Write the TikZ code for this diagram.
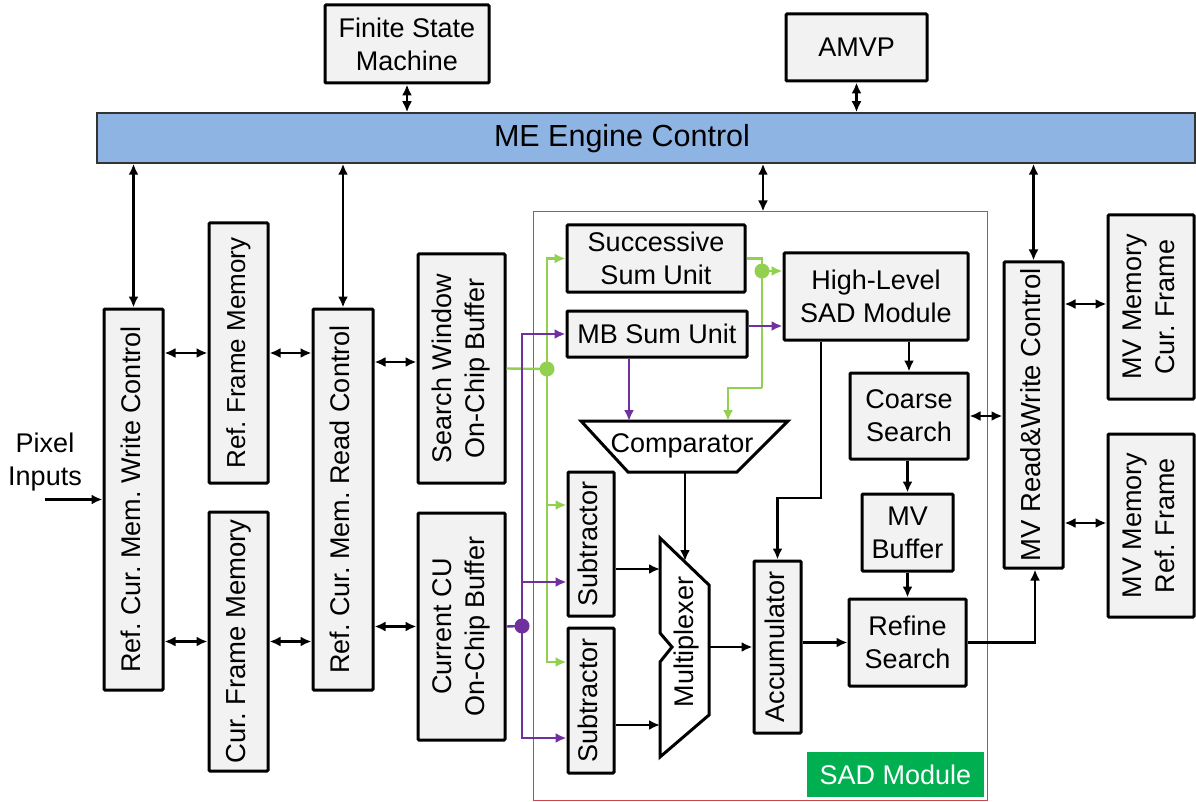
\documentclass[tikz,border=0pt]{standalone}
\usepackage{fontspec}
\setmainfont{Liberation Sans}
\usetikzlibrary{arrows.meta}
\definecolor{boxgray}{HTML}{F2F2F2}
\definecolor{mebar}{HTML}{8EB4E3}
\definecolor{lgreen}{HTML}{92D050}
\definecolor{vpurple}{HTML}{7030A0}
\definecolor{sadred}{HTML}{C8484A}
\definecolor{sadgreen}{HTML}{00B050}
\newcommand\fsz[1]{\fontsize{#1pt}{33pt}\selectfont}
\newcommand\vtext[1]{\rotatebox{90}{\begin{tabular}{@{}c@{}}#1\end{tabular}}}
\frenchspacing
\tikzset{
  box/.style={draw=black, line width=3pt, fill=boxgray, inner sep=0pt,
    rounded corners=1pt, font=\fsz{27}, align=center},
  arr/.style={line width=2.2pt, -{Latex[length=11pt,width=10pt]}},
  darr/.style={line width=2.2pt, {Latex[length=11pt,width=10pt]}-{Latex[length=11pt,width=10pt]}},
  gline/.style={line width=2.4pt, draw=lgreen},
  pline/.style={line width=2.4pt, draw=vpurple},
  garr/.style={gline, -{Latex[length=11pt,width=10pt]}},
  parr/.style={pline, -{Latex[length=11pt,width=10pt]}},
  dot/.style={circle, inner sep=0pt, minimum size=15pt},
  shapeline/.style={draw=black, line width=3pt, fill=white, line join=miter},
}
\begin{document}
\begin{tikzpicture}[x=1pt, y=-1pt]
\useasboundingbox[fill=white] (0,0) rectangle (1196,802);

% SAD module frame (behind everything)
\node[draw=sadred, line width=1pt, minimum width=454pt, minimum height=588pt, inner sep=0pt] (sad) at (760,506) {};
\node[fill=sadgreen, text=white, font=\fsz{27}, minimum width=177pt, minimum height=45pt, inner sep=0pt] (sadlab) at (895.5,774.5) {SAD Module};

% top control
\node[box, minimum width=164pt, minimum height=78pt] (fsm) at (407,44) {Finite State\\Machine};
\node[box, minimum width=141pt, minimum height=67pt] (amvp) at (856.5,47.5) {AMVP};
\node[draw=black!80, line width=1.5pt, fill=mebar, minimum width=1098pt, minimum height=50pt, inner sep=0pt] (me) at (646,138) {};
\node[font=\fsz{30.5}] (metxt) at (622,139) {ME Engine Control};

% memory side
\node[box, minimum width=59pt, minimum height=381pt, font=\fsz{27}] (wc) at (133.5,499.5) {\vtext{Ref. Cur. Mem. Write Control}};
\node[box, minimum width=59pt, minimum height=260pt, font=\fsz{26}] (rfm) at (238.5,353) {\vtext{Ref. Frame Memory}};
\node[box, minimum width=59pt, minimum height=259pt, font=\fsz{27.5}] (cfm) at (238.5,641.5) {\vtext{Cur. Frame Memory}};
\node[box, minimum width=60pt, minimum height=381pt, font=\fsz{27}] (rc) at (343,499.5) {\vtext{Ref. Cur. Mem. Read Control}};
\node[box, minimum width=87pt, minimum height=229pt] (sw) at (461.5,368.5) {\vtext{Search Window\\On-Chip Buffer}};
\node[box, minimum width=87pt, minimum height=227pt] (cu) at (461.5,626.5) {\vtext{Current CU\\On-Chip Buffer}};
\node[font=\fsz{27}, align=center] (pix) at (45,462) {Pixel\\Inputs};
\coordinate (pixin) at (45,499.5);

% SAD module blocks
\node[box, minimum width=178pt, minimum height=67pt] (ss) at (656,258.5) {Successive\\Sum Unit};
\node[box, minimum width=180pt, minimum height=46pt] (mb) at (657,334) {MB Sum Unit};
\node[box, minimum width=184pt, minimum height=87pt] (hl) at (876,296.5) {High-Level\\SAD Module};
\node[box, minimum width=118pt, minimum height=86pt] (cs) at (909,416) {Coarse\\Search};
\node[box, minimum width=91pt, minimum height=77pt] (mvb) at (907.5,532.5) {MV\\Buffer};
\node[box, minimum width=117pt, minimum height=87pt] (rs) at (907.5,642.5) {Refine\\Search};
\node[box, minimum width=46pt, minimum height=144pt] (sub1) at (591,544) {\vtext{Subtractor}};
\node[box, minimum width=46pt, minimum height=145pt] (sub2) at (591,700.5) {\vtext{Subtractor}};
\node[box, minimum width=47pt, minimum height=172pt] (acc) at (777.5,647) {\vtext{Accumulator}};

% MV side
\node[box, minimum width=59pt, minimum height=306pt, font=\fsz{27.5}] (mvrw) at (1033.5,415) {\vtext{MV Read\&Write Control}};
\node[box, minimum width=86pt, minimum height=184pt] (mvc) at (1151,307) {\vtext{MV Memory\\Cur. Frame}};
\node[box, minimum width=86pt, minimum height=183pt] (mvr) at (1151,525.5) {\vtext{MV Memory\\Ref. Frame}};

% comparator
\coordinate (cTL) at (581,421);
\coordinate (cTR) at (788,421);
\coordinate (cBR) at (737,472);
\coordinate (cBL) at (628,472);
\draw[shapeline] (cTL) -- (cTR) -- (cBR) -- (cBL) -- cycle;
\node[font=\fsz{27}] (cmp) at (682,446) {Comparator};

% multiplexer
\coordinate (m1) at (660,538);
\coordinate (m2) at (709,585);
\coordinate (m3) at (709,715);
\coordinate (m4) at (660,757);
\coordinate (m5) at (660,662);
\coordinate (m6) at (672,647);
\coordinate (m7) at (660,633);
\draw[shapeline] (m1) -- (m2) -- (m3) -- (m4) -- (m5) -- (m6) -- (m7) -- cycle;
\node[font=\fsz{27}] (muxt) at (687,642) {\rotatebox{90}{Multiplexer}};
\coordinate (muxin1) at (660,569);
\coordinate (muxin2) at (660,725);
\coordinate (muxsel) at (685,561);
\coordinate (muxout) at (709,647);
\coordinate (cmpout) at (685,472);

% control bus links
\draw[darr] (fsm.south) -- (fsm.south |- me.north);
\draw[darr] (amvp.south) -- (amvp.south |- me.north);
\draw[darr] (me.south -| wc.north) -- (wc.north);
\draw[darr] (me.south -| rc.north) -- (rc.north);
\coordinate (sadtop) at ([xshift=3pt]sad.north);
\draw[darr] (me.south -| sadtop) -- (sadtop);
\draw[darr] (me.south -| mvrw.north) -- (mvrw.north);

% memory links
\draw[arr] (pixin) -- (wc.west);
\draw[darr] (wc.east |- rfm.west) -- (rfm.west);
\draw[darr] (rfm.east) -- (rfm.east -| rc.west);
\draw[darr] (wc.east |- cfm.west) -- (cfm.west);
\draw[darr] (cfm.east) -- (cfm.east -| rc.west);
\coordinate (swin) at ([yshift=6.5pt]sw.west);
\draw[darr] (swin -| rc.east) -- (swin);
\draw[darr] (rc.east |- cu.west) -- (cu.west);

% search window data (green)
\node[dot] (gsplit) at (547,369) {};
\draw[gline] (sw.east) -- (gsplit.center);
\draw[garr] (gsplit.center) |- (ss.west);
\coordinate (sub1g) at ([yshift=39pt]sub1.west);
\coordinate (sub2g) at ([yshift=38.5pt]sub2.west);
\draw[garr] (gsplit.center) |- (sub1g);
\draw[garr] (gsplit.center) |- (sub2g);

% current CU data (purple)
\node[dot] (psplit) at (522,626) {};
\draw[pline] (cu.east) -- (psplit.center);
\draw[parr] (psplit.center) |- (mb.west);
\coordinate (sub1p) at ([yshift=-38pt]sub1.west);
\coordinate (sub2p) at ([yshift=-37.5pt]sub2.west);
\draw[parr] (psplit.center) |- (sub1p);
\draw[parr] (psplit.center) |- (sub2p);

% sum units to high-level SAD and comparator
\node[dot] (gdot) at (762,271) {};
\coordinate (gturn) at (762,388);
\coordinate (cmpin2) at (728,421);
\draw[gline] (ss.east) -| (gturn);
\draw[garr] (gturn) -| (cmpin2);
\draw[garr] (gdot.center) -- (gdot.center -| hl.west);
\coordinate (mbo) at ([yshift=8pt]mb.east);
\draw[parr] (mbo) -- (mbo -| hl.west);
\coordinate (mbd) at ([xshift=-28pt]mb.south);
\coordinate (cmpin1) at (629,421);
\draw[parr] (mbd) -- (cmpin1);

\fill[lgreen] (gsplit.center) circle (7.5pt);
\fill[lgreen] (gdot.center) circle (7.5pt);
\fill[vpurple] (psplit.center) circle (7.5pt);

% SAD datapath
\draw[arr] ([yshift=-25pt]sub1.east) -- (muxin1);
\draw[arr] ([yshift=-24.5pt]sub2.east) -- (muxin2);
\draw[arr] (cmpout) -- (muxsel);
\draw[arr] (muxout) -- (acc.west);
\draw[arr] (acc.east |- rs.west) -- (rs.west);
\coordinate (hlout) at ([xshift=-55pt]hl.south);
\coordinate (hlk) at (821,498);
\draw[arr] (hlout) -- (hlk) -| (acc.north);

% search flow
\draw[arr] (hl.south -| cs.north) -- (cs.north);
\draw[arr] (cs.south -| mvb.north) -- (mvb.north);
\draw[arr] (mvb.south) -- (mvb.south |- rs.north);
\draw[darr] (cs.east) -- (cs.east -| mvrw.west);
\coordinate (mvrwin) at ([xshift=1.5pt]mvrw.south);
\draw[arr] (rs.east) -| (mvrwin);
\coordinate (mvcin) at ([yshift=3pt]mvc.west);
\coordinate (mvrin) at ([yshift=2.5pt]mvr.west);
\draw[darr] (mvcin -| mvrw.east) -- (mvcin);
\draw[darr] (mvrin -| mvrw.east) -- (mvrin);
\end{tikzpicture}
\end{document}
